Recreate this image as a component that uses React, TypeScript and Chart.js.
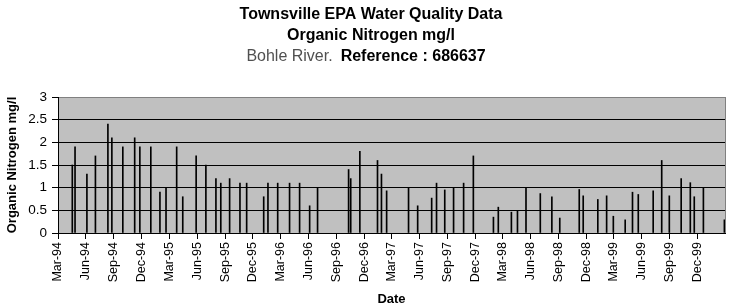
import React, { useEffect, useRef } from "react";
import { Chart, registerables } from "chart.js";

Chart.register(...registerables);

const titleLine1 = "Townsville EPA Water Quality Data";
const titleLine2 = "Organic Nitrogen mg/l";
const titleSiteText = "Bohle River.";
const titleRefText = "Reference : 686637";
const yAxisTitle = "Organic Nitrogen mg/l";
const xAxisTitle = "Date";

const sampleDates = [
  "1994-04-17", "1994-04-26", "1994-06-04", "1994-07-02", "1994-08-12", "1994-08-25", "1994-09-30", "1994-11-08", "1994-11-25", "1994-12-31",
  "1995-01-30", "1995-02-19", "1995-03-26", "1995-04-15", "1995-05-29", "1995-06-30", "1995-08-02", "1995-08-18", "1995-09-16", "1995-10-20", "1995-11-11",
  "1996-01-06", "1996-01-20", "1996-02-21", "1996-03-31", "1996-05-03", "1996-06-05", "1996-07-01", "1996-10-11", "1996-10-18", "1996-11-17",
  "1997-01-14", "1997-01-27", "1997-02-13", "1997-04-26", "1997-05-26", "1997-07-11", "1997-07-27", "1997-08-23", "1997-09-21", "1997-10-24", "1997-11-25",
  "1998-01-30", "1998-02-15", "1998-03-30", "1998-04-19", "1998-05-17", "1998-07-03", "1998-08-10", "1998-09-05", "1998-11-08", "1998-11-21",
  "1999-01-08", "1999-02-06", "1999-02-28", "1999-04-08", "1999-05-02", "1999-05-21", "1999-07-09", "1999-08-06", "1999-08-31", "1999-10-09", "1999-11-08", "1999-11-21", "1999-12-21",
  "2000-02-28",
];

const nitrogenValues = [
  1.5, 1.9, 1.3, 1.7, 2.4, 2.1, 1.9, 2.1, 1.9, 1.9,
  0.9, 1.0, 1.9, 0.8, 1.7, 1.5, 1.2, 1.1, 1.2, 1.1, 1.1,
  0.8, 1.1, 1.1, 1.1, 1.1, 0.6, 1.0, 1.4, 1.2, 1.8,
  1.6, 1.3, 0.93, 1.0, 0.6, 0.77, 1.1, 0.95, 1.0, 1.1, 1.7,
  0.35, 0.57, 0.46, 0.5, 1.0, 0.87, 0.8, 0.33, 0.96, 0.82,
  0.74, 0.82, 0.37, 0.29, 0.9, 0.85, 0.93, 1.6, 0.82, 1.2, 1.11, 0.8, 1.0,
  0.29,
];

const tickDates = [
  "1994-03-01", "1994-06-01", "1994-09-01", "1994-12-01",
  "1995-03-01", "1995-06-01", "1995-09-01", "1995-12-01",
  "1996-03-01", "1996-06-01", "1996-09-01", "1996-12-01",
  "1997-03-01", "1997-06-01", "1997-09-01", "1997-12-01",
  "1998-03-01", "1998-06-01", "1998-09-01", "1998-12-01",
  "1999-03-01", "1999-06-01", "1999-09-01", "1999-12-01",
];

const tickLabels = [
  "Mar-94", "Jun-94", "Sep-94", "Dec-94",
  "Mar-95", "Jun-95", "Sep-95", "Dec-95",
  "Mar-96", "Jun-96", "Sep-96", "Dec-96",
  "Mar-97", "Jun-97", "Sep-97", "Dec-97",
  "Mar-98", "Jun-98", "Sep-98", "Dec-98",
  "Mar-99", "Jun-99", "Sep-99", "Dec-99",
];

const xStart = "1994-03-01";
const xEnd = "2000-03-01";
const yMin = 0;
const yMax = 3;
const yStep = 0.5;

const FONT = "'Liberation Sans', Arial, sans-serif";

const plotFramePlugin = {
  id: "plotFrame",
  beforeDraw(chart: any) {
    const { ctx, chartArea } = chart;
    ctx.save();
    ctx.fillStyle = "#c0c0c0";
    ctx.fillRect(chartArea.left, chartArea.top, chartArea.right - chartArea.left, chartArea.bottom - chartArea.top);
    ctx.restore();
  },
  afterDraw(chart: any) {
    const { ctx, chartArea } = chart;
    ctx.save();
    ctx.strokeStyle = "#808080";
    ctx.lineWidth = 1;
    ctx.beginPath();
    ctx.moveTo(Math.round(chartArea.right) + 0.5, chartArea.top);
    ctx.lineTo(Math.round(chartArea.right) + 0.5, chartArea.bottom);
    ctx.stroke();
    ctx.restore();
  },
};

const headingPlugin = {
  id: "heading",
  afterDraw(chart: any) {
    const { ctx } = chart;
    const cx = 371;
    const gap = 8;
    ctx.save();
    ctx.textBaseline = "middle";
    ctx.textAlign = "center";
    ctx.fillStyle = "#000";
    ctx.font = `bold 16px ${FONT}`;
    ctx.fillText(titleLine1, cx, 15);
    ctx.fillText(titleLine2, cx, 36);
    ctx.textAlign = "left";
    ctx.font = `16px ${FONT}`;
    const w1 = ctx.measureText(titleSiteText).width;
    ctx.font = `bold 16px ${FONT}`;
    const w2 = ctx.measureText(titleRefText).width;
    const start = cx - 5 - (w1 + gap + w2) / 2;
    ctx.font = `16px ${FONT}`;
    ctx.fillStyle = "#505050";
    ctx.fillText(titleSiteText, start, 57);
    ctx.font = `bold 16px ${FONT}`;
    ctx.fillStyle = "#000";
    ctx.fillText(titleRefText, start + w1 + gap, 57);
    ctx.restore();
  },
};

export default function App() {
  const canvasRef = useRef<HTMLCanvasElement | null>(null);

  useEffect(() => {
    if (!canvasRef.current) return;
    const points = sampleDates.map((d, i) => ({ x: Date.parse(d), y: nitrogenValues[i] }));
    const tickValues = tickDates.map((d) => Date.parse(d));

    const chart = new Chart(canvasRef.current, {
      type: "bar",
      data: {
        datasets: [
          {
            data: points as any,
            backgroundColor: "#000",
            borderWidth: 0,
            barThickness: 1,
          },
        ],
      },
      plugins: [plotFramePlugin, headingPlugin],
      options: {
        animation: false,
        responsive: false,
        devicePixelRatio: 1,
        layout: { padding: { top: 97, right: 6, left: 0, bottom: 0 } },
        plugins: {
          legend: { display: false },
          tooltip: { enabled: false },
          title: { display: false },
        },
        scales: {
          x: {
            type: "linear",
            min: Date.parse(xStart),
            max: Date.parse(xEnd),
            offset: false,
            afterBuildTicks: (scale: any) => {
              scale.ticks = tickValues.map((v) => ({ value: v }));
            },
            afterFit: (scale: any) => {
              scale.height = 75;
            },
            grid: {
              display: true,
              drawOnChartArea: false,
              drawTicks: true,
              tickLength: 6,
              tickColor: "#000",
              offset: false,
            },
            border: { display: true, color: "#000", width: 1 },
            ticks: {
              autoSkip: false,
              minRotation: 90,
              maxRotation: 90,
              padding: 3,
              color: "#000",
              font: { family: FONT, size: 12.5 },
              callback: (_v: any, index: number) => tickLabels[index],
            },
            title: {
              display: true,
              text: xAxisTitle,
              color: "#000",
              font: { family: FONT, size: 13, weight: "bold" },
              padding: { top: 0, bottom: 1 },
            },
          },
          y: {
            type: "linear",
            min: yMin,
            max: yMax,
            afterFit: (scale: any) => {
              scale.width = 58;
            },
            grid: {
              color: (c: any) => (c.tick && c.tick.value === yMax ? "#808080" : "#000"),
              lineWidth: 1,
              drawTicks: true,
              tickLength: 6,
              tickColor: "#000",
            },
            border: { display: true, color: "#000", width: 1 },
            ticks: {
              stepSize: yStep,
              padding: 5,
              color: "#000",
              font: { family: FONT, size: 13.5 },
              callback: (v: any) => String(v),
            },
            title: {
              display: true,
              text: yAxisTitle,
              color: "#000",
              font: { family: FONT, size: 13, weight: "bold" },
              padding: { top: 5, bottom: 0 },
            },
          },
        },
      } as any,
    });
    return () => chart.destroy();
  }, []);

  return (
    <div style={{ position: "absolute", left: 0, top: 0, width: 731, height: 308, background: "#fff" }}>
      <canvas ref={canvasRef} width={731} height={308} style={{ width: 731, height: 308, display: "block" }} />
    </div>
  );
}
